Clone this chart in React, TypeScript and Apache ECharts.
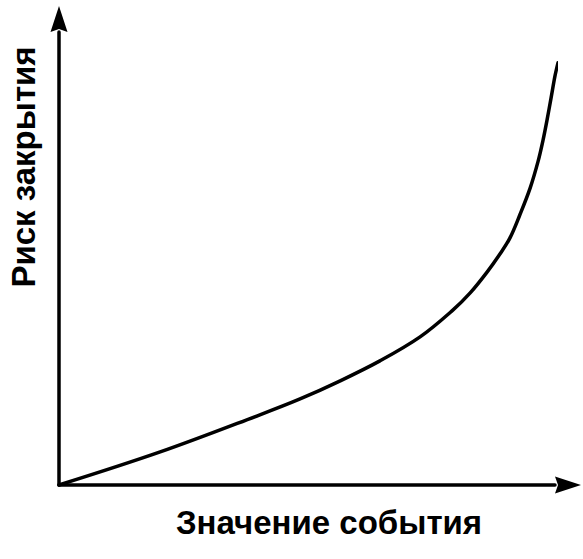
import React, { useEffect, useRef } from "react";
import * as echarts from "echarts";

const xValues = [0, 20.4, 40.5, 48.6, 56.7, 64.7, 72.8, 79.4, 82.9, 86.3, 88.9, 90.9, 92.9, 95.0, 96.6, 97.6, 98.4, 99.2, 100.0, 100.6];
const yValues = [0, 7.3, 15.5, 19.0, 23.0, 27.4, 32.7, 38.6, 42.4, 47.0, 51.0, 54.5, 59.6, 65.6, 71.5, 76.2, 80.6, 85.4, 90.3, 93.2];
const xTitle = "Значение события";
const yTitle = "Риск закрытия";

const ARROW = "path://M0,0 L8.5,26 L0,23 L-8.5,26 Z";

export default function App() {
  const ref = useRef<HTMLDivElement>(null);
  useEffect(() => {
    if (!ref.current) return;
    const chart = echarts.init(ref.current, undefined, { renderer: "svg" });
    const data = xValues.map((x, i) => [x, yValues[i]]);
    const axisLine = {
      show: true,
      symbol: ["none", ARROW],
      symbolSize: [17, 26],
      symbolOffset: [0, 13],
      lineStyle: { color: "#000", width: 3.5 },
    };
    chart.setOption({
      animation: false,
      backgroundColor: "#fff",
      grid: { left: 59, right: 28, top: 32, bottom: 74 },
      xAxis: {
        type: "value",
        min: 0,
        max: 100,
        axisLine,
        axisTick: { show: false },
        axisLabel: { show: false },
        splitLine: { show: false },
      },
      yAxis: {
        type: "value",
        min: 0,
        max: 100,
        axisLine,
        axisTick: { show: false },
        axisLabel: { show: false },
        splitLine: { show: false },
      },
      series: [
        {
          type: "line",
          data,
          smooth: 0.35,
          showSymbol: false,
          clip: false,
          lineStyle: { color: "#000", width: 3.5, join: "round", cap: "round" },
        },
      ],
      graphic: [
        {
          type: "text",
          x: 329,
          y: 522,
          style: {
            text: xTitle,
            font: "bold 33px 'Liberation Sans'",
            fill: "#000",
            textAlign: "center",
            textVerticalAlign: "middle",
          },
        },
        {
          type: "text",
          x: 23,
          y: 167,
          rotation: Math.PI / 2,
          style: {
            text: yTitle,
            font: "bold 33px 'Liberation Sans'",
            fill: "#000",
            textAlign: "center",
            textVerticalAlign: "middle",
          },
        },
      ],
    });
    return () => chart.dispose();
  }, []);
  return <div ref={ref} style={{ width: 583, height: 559, position: "absolute", left: 0, top: 0 }} />;
}
